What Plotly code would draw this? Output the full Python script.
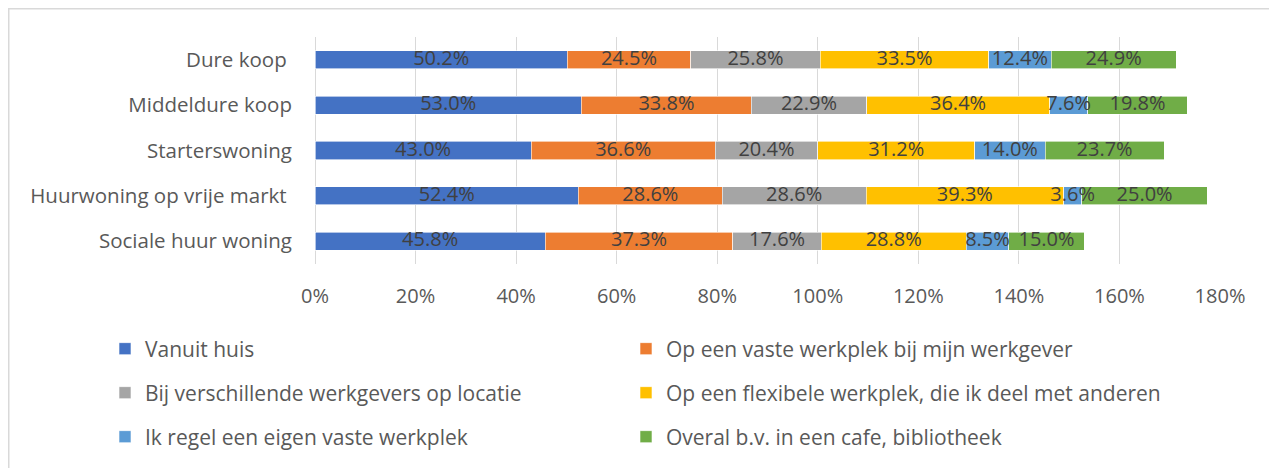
import plotly.graph_objects as go

# Woningtype (van boven naar beneden, zoals in de grafiek)
categories = [
    "Dure koop ",
    "Middeldure koop",
    "Starterswoning",
    "Huurwoning op vrije markt ",
    "Sociale huur woning",
]

series_names = [
    "Vanuit huis",
    "Op een vaste werkplek bij mijn werkgever",
    "Bij verschillende werkgevers op locatie",
    "Op een flexibele werkplek, die ik deel met anderen",
    "Ik regel een eigen vaste werkplek",
    "Overal b.v. in een cafe, bibliotheek",
]

vanuit_huis = [0.502, 0.530, 0.430, 0.524, 0.458]
vaste_werkplek = [0.245, 0.338, 0.366, 0.286, 0.373]
verschillende_werkgevers = [0.258, 0.229, 0.204, 0.286, 0.176]
flexibele_werkplek = [0.335, 0.364, 0.312, 0.393, 0.288]
eigen_werkplek = [0.124, 0.076, 0.140, 0.036, 0.085]
overal = [0.249, 0.198, 0.237, 0.250, 0.150]

series_values = [
    vanuit_huis,
    vaste_werkplek,
    verschillende_werkgevers,
    flexibele_werkplek,
    eigen_werkplek,
    overal,
]

colors = ["#4472C4", "#ED7D31", "#A5A5A5", "#FFC000", "#5B9BD5", "#70AD47"]

tick_values = [0, 0.2, 0.4, 0.6, 0.8, 1.0, 1.2, 1.4, 1.6, 1.8]

FONT = "Open Sans"
TEXT_GREY = "#595959"

# the page body has an 8px margin, so the figure is shrunk by that much
# and all window pixel positions below are shifted by it
OFFSET = 8
W, H = 1277 - OFFSET, 468 - OFFSET
L, R, T, B = 315 - OFFSET, 57, 37 - OFFSET, 204
plot_w = W - L - R
plot_h = H - T - B


def px_to_paper_x(px):
    return (px - OFFSET - L) / plot_w


def px_to_paper_y(py):
    return (H - B - (py - OFFSET)) / plot_h


# one small legend per series so the 2-column grid below the chart
# can be laid out like the Excel original
legend_keys = ["legend"] + [f"legend{n}" for n in range(2, len(series_names) + 1)]

fig = go.Figure()
for name, values, color, key in zip(series_names, series_values, colors, legend_keys):
    fig.add_trace(
        go.Bar(
            y=categories,
            x=values,
            name=name,
            orientation="h",
            marker=dict(color=color, line=dict(color="white", width=0.6)),
            legend=key,
            hoverinfo="skip",
        )
    )

# data labels go on top of all bars (like Excel), so small segments
# can spill over their neighbours without being hidden
running = [0.0] * len(categories)
for values in series_values:
    centers = [start + v / 2 for start, v in zip(running, values)]
    running = [start + v for start, v in zip(running, values)]
    fig.add_trace(
        go.Scatter(
            y=categories,
            x=centers,
            mode="text",
            text=[f"{v * 100:.1f}%" for v in values],
            textposition="middle center",
            textfont=dict(family=FONT, size=20, color="#404040"),
            showlegend=False,
            hoverinfo="skip",
            cliponaxis=False,
        )
    )

legend_cols_x = [105, 626]
legend_rows_y = [349, 393, 437]
legends = {}
for i, key in enumerate(legend_keys):
    legends[key] = dict(
        orientation="h",
        xanchor="left",
        yanchor="middle",
        x=px_to_paper_x(legend_cols_x[i % 2]),
        y=px_to_paper_y(legend_rows_y[i // 2]),
        font=dict(family=FONT, size=21, color=TEXT_GREY),
        bgcolor="rgba(0,0,0,0)",
        itemclick=False,
        itemdoubleclick=False,
    )

fig.update_layout(
    width=W,
    height=H,
    barmode="stack",
    bargap=0.6,
    plot_bgcolor="white",
    paper_bgcolor="white",
    margin=dict(l=L, r=R, t=T, b=B, autoexpand=False),
    font=dict(family=FONT, color=TEXT_GREY),
    xaxis=dict(
        range=[0, 1.8],
        tickvals=tick_values,
        tickformat=".0%",
        showgrid=True,
        gridcolor="#D9D9D9",
        gridwidth=1.3,
        zeroline=True,
        zerolinecolor="#D9D9D9",
        zerolinewidth=1.3,
        showline=False,
        ticks="",
        ticklabelstandoff=18,
        tickfont=dict(family=FONT, size=20, color=TEXT_GREY),
        fixedrange=True,
    ),
    yaxis=dict(
        autorange="reversed",
        showgrid=False,
        showline=False,
        ticks="",
        ticklabelstandoff=22,
        tickfont=dict(family=FONT, size=20.5, color=TEXT_GREY),
        fixedrange=True,
    ),
    showlegend=True,
    **legends,
)

# light grey frame around the chart area, as in the original
fig.add_shape(
    type="rect",
    xref="paper",
    yref="paper",
    x0=px_to_paper_x(OFFSET + 0.75),
    x1=px_to_paper_x(1275),
    y0=px_to_paper_y(480),
    y1=px_to_paper_y(OFFSET + 0.75),
    line=dict(color="#D9D9D9", width=1.5),
    layer="below",
)

fig.write_html("out.html", config={"displayModeBar": False})
